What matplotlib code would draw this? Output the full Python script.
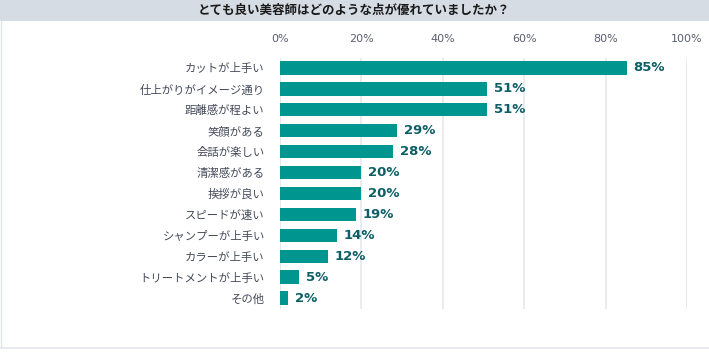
import matplotlib
matplotlib.use("Agg")
import matplotlib.pyplot as plt
from matplotlib.patches import Rectangle
import numpy as np

plt.rcParams['font.family'] = ['Noto Sans CJK JP', 'DejaVu Sans']

title = "とても良い美容師はどのような点が優れていましたか？"
categories = ["カットが上手い", "仕上がりがイメージ通り", "距離感が程よい", "笑顔がある", "会話が楽しい",
              "清潔感がある", "挨拶が良い", "スピードが速い", "シャンプーが上手い", "カラーが上手い",
              "トリートメントが上手い", "その他"]
values = [85.2, 50.9, 50.9, 28.8, 27.8, 19.9, 19.9, 18.6, 13.9, 11.9, 4.7, 2.0]
labels = ["85%", "51%", "51%", "29%", "28%", "20%", "20%", "19%", "14%", "12%", "5%", "2%"]
ticks = [0, 20, 40, 60, 80, 100]
tick_labels = ["0%", "20%", "40%", "60%", "80%", "100%"]

W, H = 709, 356
fig = plt.figure(figsize=(W / 100, H / 100), dpi=100)
fig.patch.set_facecolor("white")

# title band
fig.patches.append(Rectangle((0, 1 - 21 / H), 1, 21 / H, transform=fig.transFigure,
                             facecolor="#d6dce4", edgecolor="none", zorder=0))
fig.text(0.5, 1 - 10.5 / H, title, ha="center", va="center", fontsize=9,
         fontweight="bold", color="#1a1a1a")
# frame lines
fig.add_artist(plt.Line2D([0.5 / W, 0.5 / W], [1 - 21 / H, 1 - 347 / H], transform=fig.transFigure,
                          color="#e4e6ea", lw=1))
fig.add_artist(plt.Line2D([0, 1], [1 - 347.5 / H, 1 - 347.5 / H], transform=fig.transFigure,
                          color="#e4e6ea", lw=1.2))

left, right = 280 / W, 687 / W
top, bottom = 1 - 57.5 / H, 1 - 308.5 / H
ax = fig.add_axes([left, bottom, right - left, top - bottom])
y = np.arange(len(categories))
ax.barh(y, values, height=0.64, color="#009690", zorder=3)
for yi, v, lab in zip(y, values, labels):
    ax.text(v + 1.6, yi, lab, va="center", ha="left", fontsize=9.5, fontweight="bold",
            color="#0d5f66", zorder=4, family="DejaVu Sans")
ax.set_xlim(0, 100)
ax.set_ylim(len(categories) - 0.5, -0.5)
ax.set_yticks(y)
ax.set_yticklabels(categories, fontsize=8.2, color="#454a5a")
ax.set_xticks(ticks)
ax.set_xticklabels(tick_labels, fontsize=8, color="#5a5e6e", family="DejaVu Sans")
ax.xaxis.tick_top()
ax.tick_params(axis="x", length=0, pad=10)
ax.tick_params(axis="y", length=0, pad=11)
ax.grid(axis="x", color="#e6e8ee", lw=1.2, zorder=0)
for s in ax.spines.values():
    s.set_visible(False)
ax.axvline(0, color="#e6e8ee", lw=1.2, zorder=1)

fig.savefig("out.png", dpi=100)
